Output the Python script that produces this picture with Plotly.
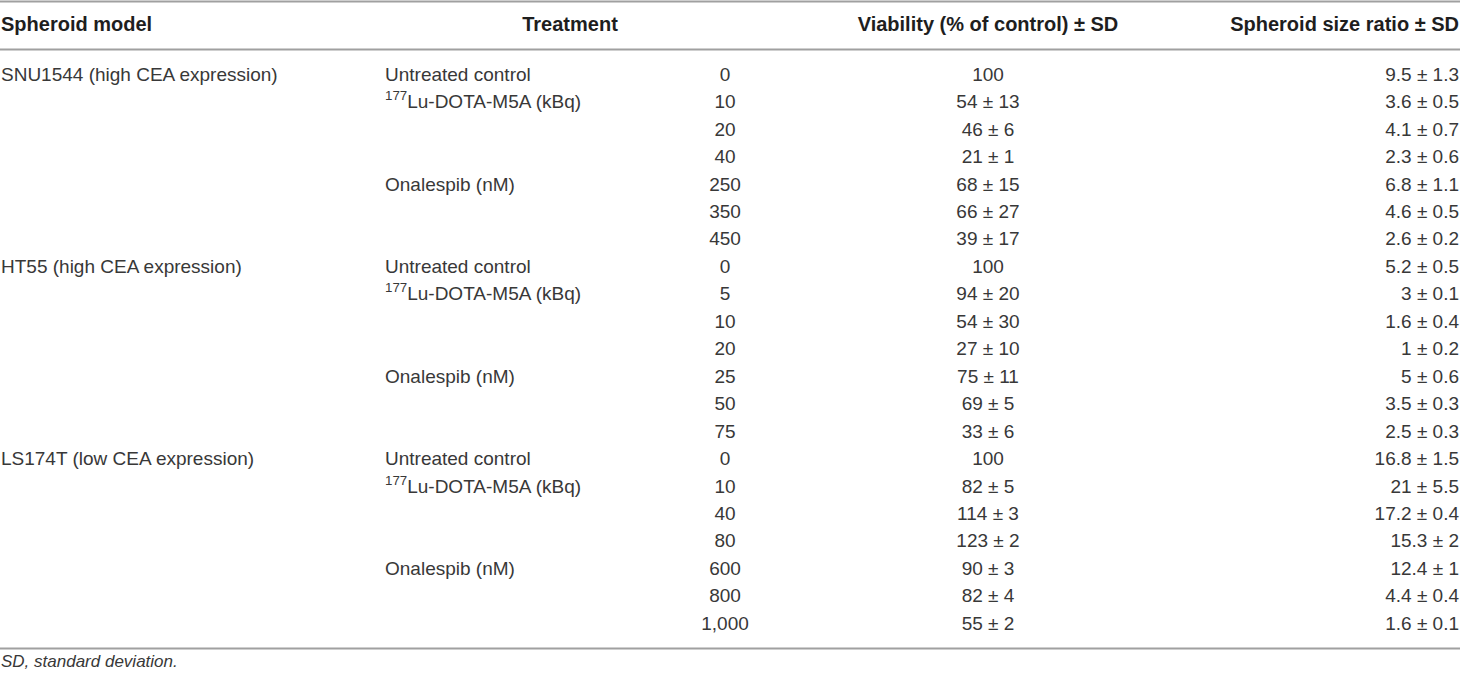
import plotly.graph_objects as go

# table contents
models = ["SNU1544 (high CEA expression)", "", "", "", "", "", "",
          "HT55 (high CEA expression)", "", "", "", "", "", "",
          "LS174T (low CEA expression)", "", "", "", "", "", ""]
lu = "<sup>177</sup>Lu-DOTA-M5A (kBq)"
treatments = ["Untreated control", lu, "", "", "Onalespib (nM)", "", ""] * 3
doses = ["0", "10", "20", "40", "250", "350", "450",
         "0", "5", "10", "20", "25", "50", "75",
         "0", "10", "40", "80", "600", "800", "1,000"]
viability = ["100", "54 ± 13", "46 ± 6", "21 ± 1", "68 ± 15", "66 ± 27", "39 ± 17",
             "100", "94 ± 20", "54 ± 30", "27 ± 10", "75 ± 11", "69 ± 5", "33 ± 6",
             "100", "82 ± 5", "114 ± 3", "123 ± 2", "90 ± 3", "82 ± 4", "55 ± 2"]
size_ratio = ["9.5 ± 1.3", "3.6 ± 0.5", "4.1 ± 0.7", "2.3 ± 0.6", "6.8 ± 1.1", "4.6 ± 0.5", "2.6 ± 0.2",
              "5.2 ± 0.5", "3 ± 0.1", "1.6 ± 0.4", "1 ± 0.2", "5 ± 0.6", "3.5 ± 0.3", "2.5 ± 0.3",
              "16.8 ± 1.5", "21 ± 5.5", "17.2 ± 0.4", "15.3 ± 2", "12.4 ± 1", "4.4 ± 0.4", "1.6 ± 0.1"]
headers = ["Spheroid model", "Treatment", "Viability (% of control) ± SD", "Spheroid size ratio ± SD"]
footnote = "SD, standard deviation."

W, H = 1460, 678
TXT = "#383838"
HDR = "#1e1e1e"
LINE = "#a0a0a0"
FONT = "Liberation Sans"
FS = 19

row_top, row_step = 76, 27.45
rows = [row_top + i * row_step for i in range(len(doses))]

fig = go.Figure()

def col(x, texts, pos):
    # skip blank cells
    ys = [r for r, t in zip(rows, texts) if t]
    ts = [t for t in texts if t]
    fig.add_trace(go.Scatter(
        x=[x] * len(ts), y=ys, text=ts, mode="text",
        textposition=pos, textfont=dict(family=FONT, size=FS, color=TXT),
        hoverinfo="skip", showlegend=False))

col(1, models, "middle right")
col(385, treatments, "middle right")
col(725, doses, "middle center")
col(988, viability, "middle center")
col(1459, size_ratio, "middle left")

hdr_x = [1, 570, 988, 1459]
hdr_pos = ["middle right", "middle center", "middle center", "middle left"]
for hx, ht, hp in zip(hdr_x, headers, hdr_pos):
    fig.add_trace(go.Scatter(
        x=[hx], y=[25.5], text=["<b>%s</b>" % ht], mode="text", textposition=hp,
        textfont=dict(family=FONT, size=20, color=HDR),
        hoverinfo="skip", showlegend=False))

fig.add_trace(go.Scatter(
    x=[1], y=[663], text=["<i>%s</i>" % footnote], mode="text", textposition="middle right",
    textfont=dict(family=FONT, size=17, color=TXT),
    hoverinfo="skip", showlegend=False))

for ly in [1.5, 49.5, 648.5]:
    fig.add_shape(type="line", x0=0, x1=W, y0=ly, y1=ly,
                  line=dict(color=LINE, width=2))

fig.update_layout(
    width=W, height=H,
    margin=dict(l=0, r=0, t=0, b=0),
    paper_bgcolor="white", plot_bgcolor="white",
    xaxis=dict(range=[0, W], visible=False, fixedrange=True),
    yaxis=dict(range=[H, 0], visible=False, fixedrange=True),
)

fig.write_html("out.html", config={"displayModeBar": False},
               post_script="document.body.style.margin='0';"
                           "document.body.style.overflow='hidden';")
